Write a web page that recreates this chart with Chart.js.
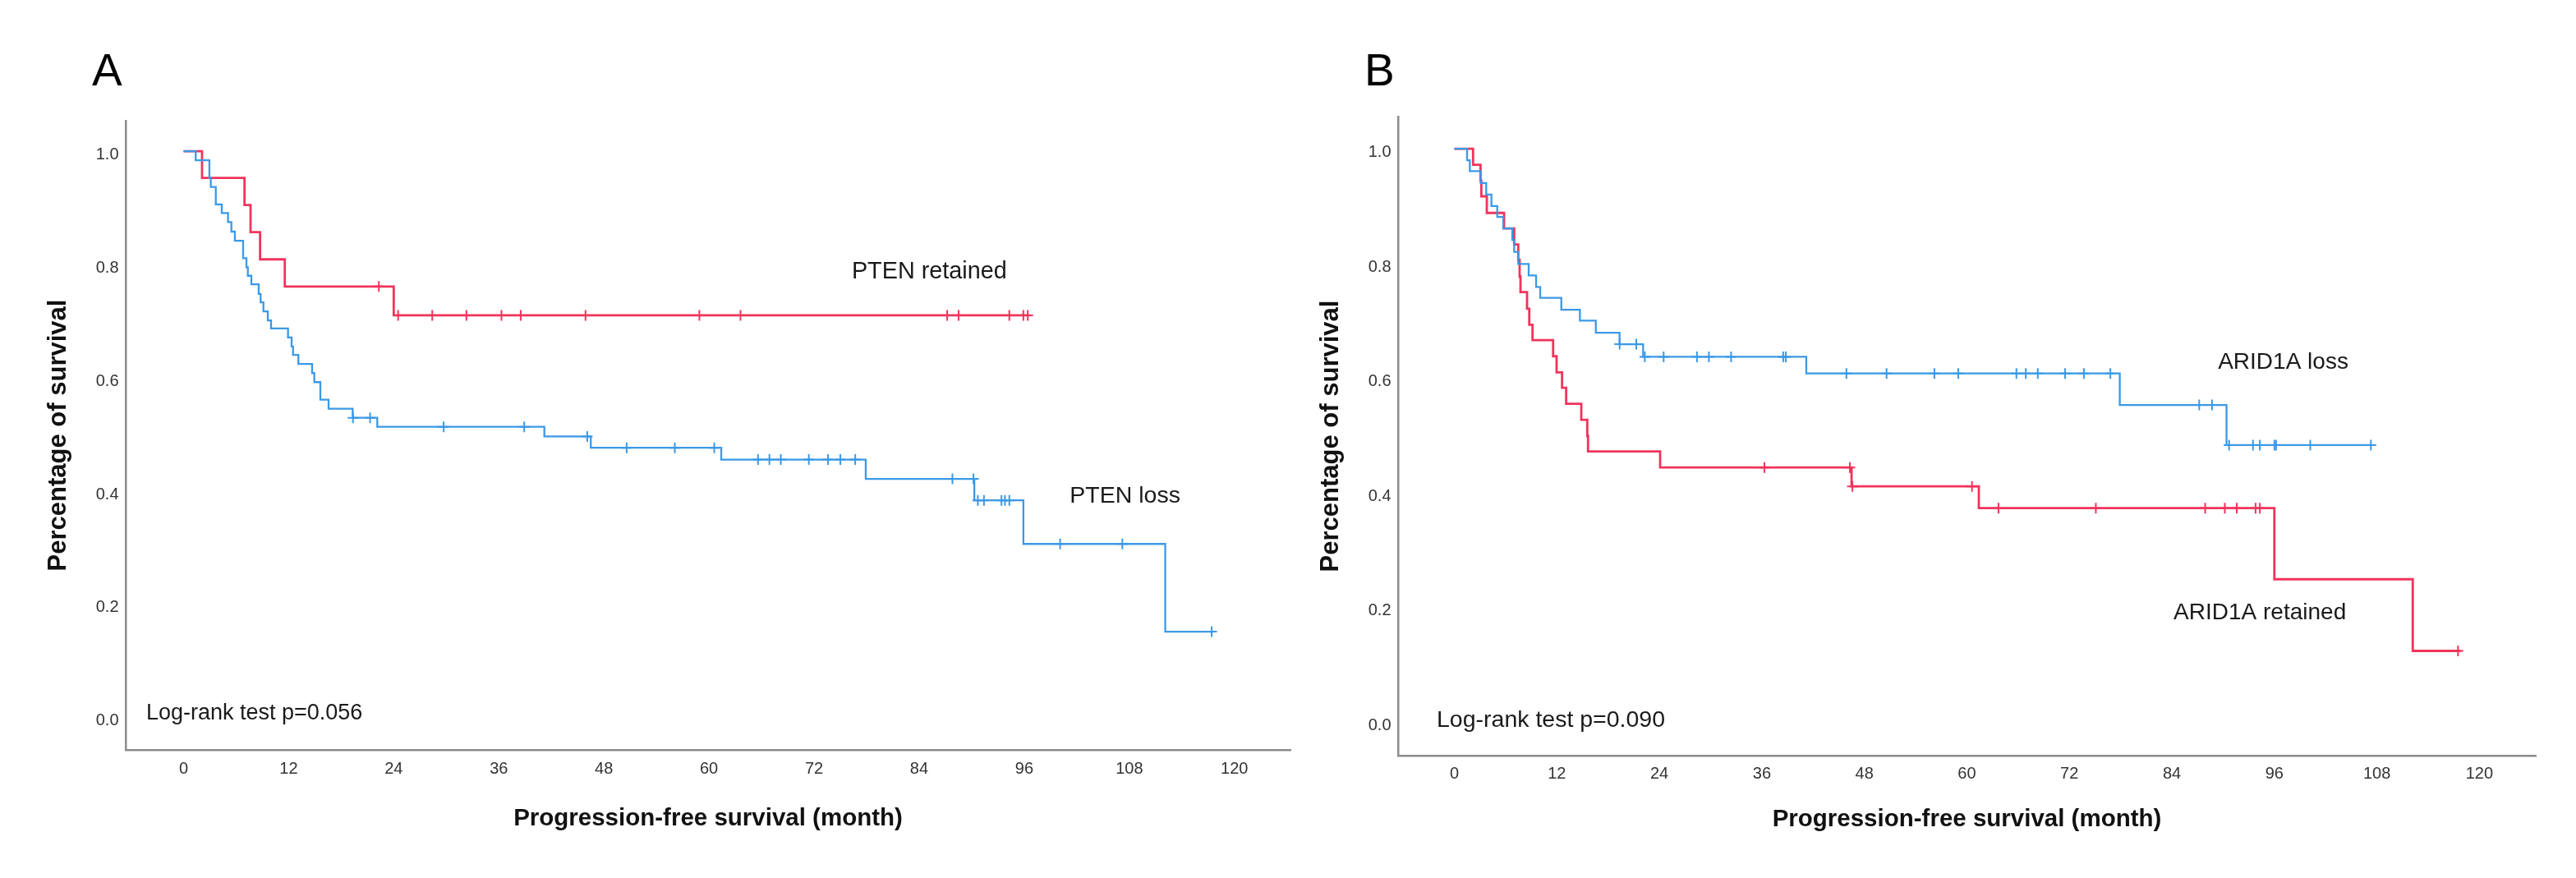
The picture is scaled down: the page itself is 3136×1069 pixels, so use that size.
<!DOCTYPE html>
<html>
<head>
<meta charset="utf-8">
<script src="https://cdn.jsdelivr.net/npm/chart.js@4.4.1/dist/chart.umd.min.js"></script>
<style>
  html, body { margin: 0; padding: 0; background: #fff; overflow: hidden; }
  canvas { position: absolute; top: 0; }
  #chartA { left: 0; }
  #chartB { left: 1590px; }
</style>
</head>
<body>
<canvas id="chartA" width="1590" height="1069"></canvas>
<canvas id="chartB" width="1546" height="1069"></canvas>
<script>
// axis ticks
const monthTicks = [0, 12, 24, 36, 48, 60, 72, 84, 96, 108, 120];
const survivalTicks = [0, 0.2, 0.4, 0.6, 0.8, 1.0];

// panel A: PTEN
const ptenRetainedTimes = [2.11, 6.96, 7.65, 8.74, 11.56, 24.0];
const ptenRetainedSurv = [0.953, 0.905, 0.857, 0.809, 0.761, 0.710];
const ptenRetainedCensored = [22.3, 24.5, 28.4, 32.3, 36.3, 38.5, 45.9, 58.9, 63.6, 87.2, 88.5, 94.3, 95.9, 96.4];
const ptenRetainedEnd = 96.6;

const ptenLossTimes = [1.39, 2.95, 3.11, 3.68, 4.36, 5.08, 5.46, 5.86, 6.80, 7.18, 7.34, 7.74, 8.58, 8.80, 9.12, 9.62, 9.99,
  11.93, 12.34, 12.50, 13.11, 14.68, 14.93, 15.62, 16.56, 19.31, 22.12, 41.2, 46.5, 61.4, 77.9, 90.3, 95.9, 112.1];
const ptenLossSurv = [0.984, 0.953, 0.937, 0.906, 0.891, 0.875, 0.858, 0.842, 0.811, 0.795, 0.780, 0.765, 0.748, 0.733, 0.717, 0.701, 0.687,
  0.671, 0.655, 0.640, 0.624, 0.608, 0.592, 0.561, 0.545, 0.529, 0.513, 0.496, 0.476, 0.455, 0.421, 0.383, 0.306, 0.151];
const ptenLossCensored = [19.35, 21.3, 29.7, 38.9, 46.1, 50.6, 56.1, 60.6, 65.6, 66.9, 68.2, 71.4, 73.6, 75.0, 76.7,
  87.8, 90.2, 90.7, 91.4, 93.4, 93.8, 94.3, 100.1, 107.2, 117.4];
const ptenLossEnd = 117.6;

// panel B: ARID1A
const aridLossTimes = [1.49, 1.81, 3.09, 3.73, 4.34, 5.02, 5.72, 6.78, 7.0, 7.48, 8.70, 9.57, 10.05, 12.52, 14.7, 16.56,
  19.34, 22.1, 41.2, 77.9, 90.4];
const aridLossSurv = [0.980, 0.961, 0.940, 0.920, 0.900, 0.881, 0.861, 0.841, 0.820, 0.799, 0.779, 0.759, 0.740, 0.719, 0.700, 0.679,
  0.659, 0.637, 0.608, 0.553, 0.483];
const aridLossCensored = [19.35, 21.3, 22.3, 24.5, 28.4, 29.8, 32.4, 38.5, 38.8, 45.9, 50.6, 56.2, 59.0, 65.8, 66.9, 68.3,
  71.5, 73.7, 76.8, 87.2, 88.7, 90.7, 93.5, 94.3, 96.0, 96.2, 100.2, 107.3];
const aridLossEnd = 107.6;

const aridRetainedTimes = [2.19, 3.06, 3.16, 3.80, 5.82, 7.0, 7.48, 7.64, 7.74, 8.51, 8.77, 9.15, 11.56, 11.97, 12.61, 13.09,
  14.86, 15.56, 15.65, 24.09, 46.5, 61.4, 96.0, 112.2];
const aridRetainedSurv = [0.972, 0.944, 0.917, 0.888, 0.861, 0.833, 0.806, 0.777, 0.750, 0.721, 0.693, 0.666, 0.638, 0.610, 0.583, 0.555,
  0.527, 0.499, 0.472, 0.444, 0.411, 0.373, 0.249, 0.124];
const aridRetainedCensored = [36.3, 46.3, 46.6, 60.6, 63.7, 75.1, 87.9, 90.2, 91.6, 93.8, 94.3, 117.5];
const aridRetainedEnd = 117.8;

const RED = "#f0345c";
const BLUE = "#3b99e6";
const AXIS = "#8c8c8c";
const FONT = '"Liberation Sans", Arial, sans-serif';

function stepPoints(times, surv, end) {
  const pts = [{ x: 0, y: 1 }];
  times.forEach((t, i) => pts.push({ x: t, y: surv[i] }));
  pts.push({ x: end, y: surv[surv.length - 1] });
  return pts;
}

function levelAt(times, surv, t) {
  let s = 1;
  times.forEach((e, i) => { if (e <= t) s = surv[i]; });
  return s;
}

function censorPoints(times, surv, censored) {
  return censored.map(c => ({ x: c, y: levelAt(times, surv, c) }));
}

function curve(times, surv, end, color, width) {
  return {
    data: stepPoints(times, surv, end),
    stepped: true,
    borderColor: color,
    borderWidth: width,
    pointRadius: 0,
    pointHoverRadius: 0,
    fill: false
  };
}

function marks(times, surv, censored, color) {
  return {
    data: censorPoints(times, surv, censored),
    showLine: false,
    pointStyle: "cross",
    pointRadius: 6.5,
    pointHoverRadius: 6.5,
    pointBorderWidth: 2,
    pointBorderColor: color,
    pointBackgroundColor: color
  };
}

const panelText = {
  id: "panelText",
  afterDraw(chart, args, o) {
    const { ctx, scales: { x, y } } = chart;
    ctx.save();
    ctx.fillStyle = "#1a1a1a";
    ctx.textAlign = "left";
    ctx.textBaseline = "middle";
    o.notes.forEach(n => {
      ctx.font = `${n.size}px ${FONT}`;
      ctx.fillText(n.text, x.getPixelForValue(n.x), y.getPixelForValue(n.y));
    });
    ctx.fillStyle = "#000";
    ctx.textBaseline = "alphabetic";
    ctx.font = `55px ${FONT}`;
    ctx.fillText(o.letter, o.letterX, o.letterY);
    ctx.restore();
  }
};

function makeChart(id, p) {
  const tickFont = { family: FONT, size: 20 };
  return new Chart(document.getElementById(id), {
    type: "line",
    data: { datasets: p.datasets },
    plugins: [panelText],
    options: {
      responsive: false,
      animation: false,
      events: [],
      layout: { autoPadding: false, padding: { left: 0, top: p.top, right: p.right, bottom: 0 } },
      plugins: {
        legend: { display: false },
        tooltip: { enabled: false },
        panelText: { notes: p.notes, letter: p.letter, letterX: p.letterX, letterY: p.letterY }
      },
      scales: {
        x: {
          type: "linear",
          min: p.xMin,
          max: p.xMax,
          afterBuildTicks: s => { s.ticks = monthTicks.map(v => ({ value: v })); },
          afterFit: s => { s.height = p.xHeight; },
          grid: { display: false, drawTicks: false },
          border: { display: true, color: AXIS, width: 2.5 },
          ticks: { font: tickFont, color: "#333", padding: p.xTickPad, maxRotation: 0, autoSkip: false },
          title: {
            display: true, text: "Progression-free survival (month)",
            font: { family: FONT, size: 29.5, weight: "bold" }, color: "#111",
            padding: { top: 0, bottom: p.xTitlePad }
          }
        },
        y: {
          min: p.yMin,
          max: p.yMax,
          afterBuildTicks: s => { s.ticks = survivalTicks.map(v => ({ value: v })); },
          afterFit: s => { s.width = p.yWidth; },
          grid: { display: false, drawTicks: false },
          border: { display: true, color: AXIS, width: 2.5 },
          ticks: { font: tickFont, color: "#333", padding: 8.5, labelOffset: 4.5, callback: v => Number(v).toFixed(1) },
          title: {
            display: true, text: "Percentage of survival",
            font: { family: FONT, size: 31, weight: "bold" }, color: "#111",
            padding: { top: p.yTitlePad, bottom: 0 }
          }
        }
      }
    }
  });
}

makeChart("chartA", {
  top: 147, right: 19, yWidth: 153, xHeight: 156,
  xMin: -6.61, xMax: 126.4, yMin: -0.058, yMax: 1.054,
  xTickPad: 11, xTitlePad: 54.6, yTitlePad: 52.4,
  letter: "A", letterX: 112, letterY: 103.5,
  notes: [
    { text: "PTEN retained", x: 76.3, y: 0.787, size: 28.8 },
    { text: "PTEN loss", x: 101.2, y: 0.390, size: 28.5 },
    { text: "Log-rank test p=0.056", x: -4.27, y: 0.007, size: 27 }
  ],
  datasets: [
    curve(ptenLossTimes, ptenLossSurv, ptenLossEnd, BLUE, 2.3),
    marks(ptenLossTimes, ptenLossSurv, ptenLossCensored, BLUE),
    curve(ptenRetainedTimes, ptenRetainedSurv, ptenRetainedEnd, RED, 2.8),
    marks(ptenRetainedTimes, ptenRetainedSurv, ptenRetainedCensored, RED)
  ]
});

makeChart("chartB", {
  top: 142, right: 49, yWidth: 112, xHeight: 149,
  xMin: -6.59, xMax: 126.6, yMin: -0.0587, yMax: 1.056,
  xTickPad: 10, xTitlePad: 53.3, yTitlePad: 12.2,
  letter: "B", letterX: 71, letterY: 103.5,
  notes: [
    { text: "ARID1A loss", x: 89.4, y: 0.627, size: 28 },
    { text: "ARID1A retained", x: 84.2, y: 0.190, size: 28 },
    { text: "Log-rank test p=0.090", x: -2.07, y: 0.003, size: 28.5 }
  ],
  datasets: [
    curve(aridLossTimes, aridLossSurv, aridLossEnd, BLUE, 2.3),
    marks(aridLossTimes, aridLossSurv, aridLossCensored, BLUE),
    curve(aridRetainedTimes, aridRetainedSurv, aridRetainedEnd, RED, 2.8),
    marks(aridRetainedTimes, aridRetainedSurv, aridRetainedCensored, RED)
  ]
});
</script>
</body>
</html>
